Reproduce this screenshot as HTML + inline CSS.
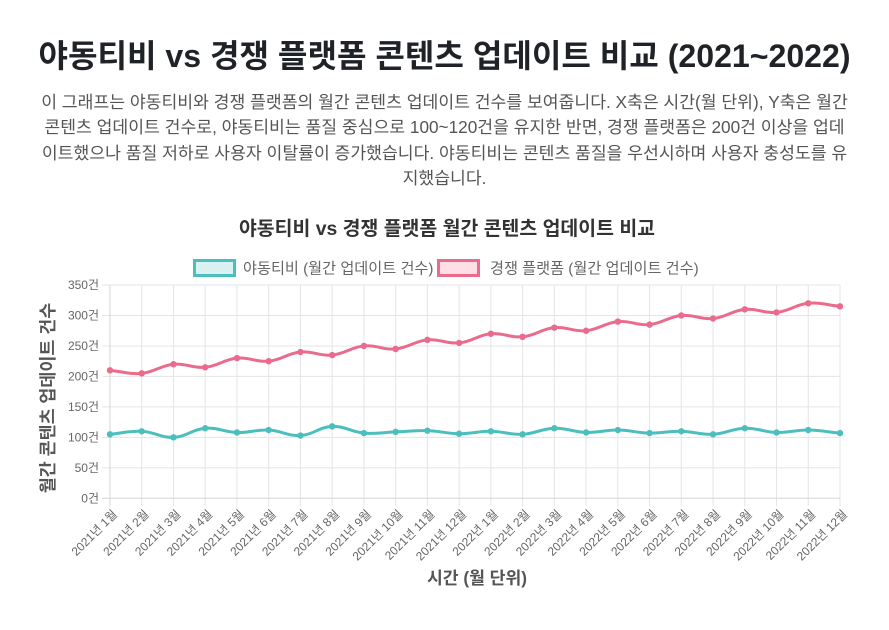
<!DOCTYPE html>
<html lang="ko">
<head>
<meta charset="utf-8">
<style>
  html,body{margin:0;padding:0;background:#fff;}
  body{width:889px;height:630px;position:relative;overflow:hidden;
       font-family:"Liberation Sans","Noto Sans CJK KR",sans-serif;}
  .title{position:absolute;left:0;top:37px;width:889px;text-align:center;
         font-size:32.1px;line-height:38px;font-weight:bold;color:#1f2328;white-space:nowrap;
         font-family:"Liberation Sans","Noto Sans CJK KR",sans-serif;}
  .desc{position:absolute;left:0;top:90px;width:889px;text-align:center;
        font-size:17.2px;line-height:25.3px;color:#555;white-space:nowrap;
        font-family:"Liberation Sans","Noto Sans CJK KR",sans-serif;}
  svg{position:absolute;left:0;top:0;}
  svg text{font-family:"Liberation Sans","Noto Sans CJK KR",sans-serif;}
</style>
</head>
<body>
<div class="title">야동티비 vs 경쟁 플랫폼 콘텐츠 업데이트 비교 (2021~2022)</div>
<div class="desc">이 그래프는 야동티비와 경쟁 플랫폼의 월간 콘텐츠 업데이트 건수를 보여줍니다. X축은 시간(월 단위), Y축은 월간<br>콘텐츠 업데이트 건수로, 야동티비는 품질 중심으로 100~120건을 유지한 반면, 경쟁 플랫폼은 200건 이상을 업데<br>이트했으나 품질 저하로 사용자 이탈률이 증가했습니다. 야동티비는 콘텐츠 품질을 우선시하며 사용자 충성도를 유<br>지했습니다.</div>

<svg width="889" height="630" viewBox="0 0 889 630" xmlns="http://www.w3.org/2000/svg">
  <!-- chart title -->
  <text x="447" y="235" text-anchor="middle" font-size="19.4" font-weight="bold" fill="#333">야동티비 vs 경쟁 플랫폼 월간 콘텐츠 업데이트 비교</text>

  <!-- legend -->
  <rect x="194.5" y="260.5" width="40" height="15" fill="#d9f2f1" stroke="#4bbfbd" stroke-width="3"/>
  <text x="243" y="273.5" font-size="15.2" fill="#666">야동티비 (월간 업데이트 건수)</text>
  <rect x="438.5" y="260.5" width="40" height="15" fill="#ffdee5" stroke="#eb6b8c" stroke-width="3"/>
  <text x="490" y="273.5" font-size="15.2" fill="#666">경쟁 플랫폼 (월간 업데이트 건수)</text>

  <!-- horizontal grid -->
  <g stroke="#e5e5e5" stroke-width="1">
    <line x1="102" y1="285" x2="840" y2="285"/>
    <line x1="102" y1="315.5" x2="840" y2="315.5"/>
    <line x1="102" y1="346" x2="840" y2="346"/>
    <line x1="102" y1="376.4" x2="840" y2="376.4"/>
    <line x1="102" y1="406.9" x2="840" y2="406.9"/>
    <line x1="102" y1="437.4" x2="840" y2="437.4"/>
    <line x1="102" y1="467.8" x2="840" y2="467.8"/>
  </g>
  <!-- vertical grid -->
  <g stroke="#e5e5e5" stroke-width="1">
    <line x1="141.74" y1="285" x2="141.74" y2="506"/>
    <line x1="173.48" y1="285" x2="173.48" y2="506"/>
    <line x1="205.22" y1="285" x2="205.22" y2="506"/>
    <line x1="236.96" y1="285" x2="236.96" y2="506"/>
    <line x1="268.70" y1="285" x2="268.70" y2="506"/>
    <line x1="300.43" y1="285" x2="300.43" y2="506"/>
    <line x1="332.17" y1="285" x2="332.17" y2="506"/>
    <line x1="363.91" y1="285" x2="363.91" y2="506"/>
    <line x1="395.65" y1="285" x2="395.65" y2="506"/>
    <line x1="427.39" y1="285" x2="427.39" y2="506"/>
    <line x1="459.13" y1="285" x2="459.13" y2="506"/>
    <line x1="490.87" y1="285" x2="490.87" y2="506"/>
    <line x1="522.61" y1="285" x2="522.61" y2="506"/>
    <line x1="554.35" y1="285" x2="554.35" y2="506"/>
    <line x1="586.09" y1="285" x2="586.09" y2="506"/>
    <line x1="617.83" y1="285" x2="617.83" y2="506"/>
    <line x1="649.57" y1="285" x2="649.57" y2="506"/>
    <line x1="681.30" y1="285" x2="681.30" y2="506"/>
    <line x1="713.04" y1="285" x2="713.04" y2="506"/>
    <line x1="744.78" y1="285" x2="744.78" y2="506"/>
    <line x1="776.52" y1="285" x2="776.52" y2="506"/>
    <line x1="808.26" y1="285" x2="808.26" y2="506"/>
    <line x1="840" y1="285" x2="840" y2="506"/>
  </g>
  <!-- axes -->
  <g stroke="#d6d6d6" stroke-width="1">
    <line x1="110" y1="285" x2="110" y2="506"/>
    <line x1="102" y1="498.3" x2="840" y2="498.3"/>
  </g>

  <!-- y tick labels -->
  <g font-size="12" fill="#666" text-anchor="end">
    <text x="99" y="289">350건</text>
    <text x="99" y="319.5">300건</text>
    <text x="99" y="350">250건</text>
    <text x="99" y="380.4">200건</text>
    <text x="99" y="410.9">150건</text>
    <text x="99" y="441.4">100건</text>
    <text x="99" y="471.8">50건</text>
    <text x="99" y="502.3">0건</text>
  </g>

  <!-- x tick labels -->
  <g font-size="12" fill="#666" text-anchor="end">
    <text transform="translate(115,512) rotate(-45)" dy="0.35em">2021년 1월</text>
    <text transform="translate(146.74,512) rotate(-45)" dy="0.35em">2021년 2월</text>
    <text transform="translate(178.48,512) rotate(-45)" dy="0.35em">2021년 3월</text>
    <text transform="translate(210.22,512) rotate(-45)" dy="0.35em">2021년 4월</text>
    <text transform="translate(241.96,512) rotate(-45)" dy="0.35em">2021년 5월</text>
    <text transform="translate(273.70,512) rotate(-45)" dy="0.35em">2021년 6월</text>
    <text transform="translate(305.43,512) rotate(-45)" dy="0.35em">2021년 7월</text>
    <text transform="translate(337.17,512) rotate(-45)" dy="0.35em">2021년 8월</text>
    <text transform="translate(368.91,512) rotate(-45)" dy="0.35em">2021년 9월</text>
    <text transform="translate(400.65,512) rotate(-45)" dy="0.35em">2021년 10월</text>
    <text transform="translate(432.39,512) rotate(-45)" dy="0.35em">2021년 11월</text>
    <text transform="translate(464.13,512) rotate(-45)" dy="0.35em">2021년 12월</text>
    <text transform="translate(495.87,512) rotate(-45)" dy="0.35em">2022년 1월</text>
    <text transform="translate(527.61,512) rotate(-45)" dy="0.35em">2022년 2월</text>
    <text transform="translate(559.35,512) rotate(-45)" dy="0.35em">2022년 3월</text>
    <text transform="translate(591.09,512) rotate(-45)" dy="0.35em">2022년 4월</text>
    <text transform="translate(622.83,512) rotate(-45)" dy="0.35em">2022년 5월</text>
    <text transform="translate(654.57,512) rotate(-45)" dy="0.35em">2022년 6월</text>
    <text transform="translate(686.30,512) rotate(-45)" dy="0.35em">2022년 7월</text>
    <text transform="translate(718.04,512) rotate(-45)" dy="0.35em">2022년 8월</text>
    <text transform="translate(749.78,512) rotate(-45)" dy="0.35em">2022년 9월</text>
    <text transform="translate(781.52,512) rotate(-45)" dy="0.35em">2022년 10월</text>
    <text transform="translate(813.26,512) rotate(-45)" dy="0.35em">2022년 11월</text>
    <text transform="translate(845,512) rotate(-45)" dy="0.35em">2022년 12월</text>
  </g>

  <!-- axis titles -->
  <text x="477" y="584" text-anchor="middle" font-size="17.2" font-weight="bold" fill="#555">시간 (월 단위)</text>
  <text transform="translate(54,398) rotate(-90)" text-anchor="middle" font-size="17.4" font-weight="bold" fill="#555">월간 콘텐츠 업데이트 건수</text>

  <!-- series -->
  <path id="pinkLine" fill="none" stroke="#eb6b8c" stroke-width="3" stroke-linejoin="round"
    d="M110,370.3 L141.74,373.4 L173.48,364.2 L205.22,367.3 L236.96,358.1 L268.70,361.2 L300.43,352 L332.17,355.1 L363.91,345.9 L395.65,349 L427.39,339.9 L459.13,342.9 L490.87,333.8 L522.61,336.8 L554.35,327.7 L586.09,330.7 L617.83,321.6 L649.57,324.6 L681.30,315.5 L713.04,318.5 L744.78,309.4 L776.52,312.4 L808.26,303.3 L840,306.4"/>
  <path id="tealLine" fill="none" stroke="#4bbfbd" stroke-width="3" stroke-linejoin="round"
    d="M110,434.3 L141.74,431.3 L173.48,437.4 L205.22,428.2 L236.96,432.5 L268.70,430.1 L300.43,435.5 L332.17,426.4 L363.91,433.1 L395.65,431.9 L427.39,430.7 L459.13,433.7 L490.87,431.3 L522.61,434.3 L554.35,428.2 L586.09,432.5 L617.83,430.1 L649.57,433.1 L681.30,431.3 L713.04,434.3 L744.78,428.2 L776.52,432.5 L808.26,430.1 L840,433.1"/>
  <g id="pts"></g>
</svg>

<script>
(function(){
  var teal=[105,110,100,115,108,112,103,118,107,109,111,106,110,105,115,108,112,107,110,105,115,108,112,107];
  var pink=[210,205,220,215,230,225,240,235,250,245,260,255,270,265,280,275,290,285,300,295,310,305,320,315];
  function X(i){return 110+i*(730/23);}
  function Y(v){return 498.3-v*(213.3/350);}
  function build(vals){
    var p=vals.map(function(v,i){return {x:X(i),y:Y(v)};});
    var t=0.4,n=p.length,cp=[];
    for(var i=0;i<n;i++){
      var prev=p[i-1]||p[i],cur=p[i],next=p[i+1]||p[i];
      var d01=Math.hypot(cur.x-prev.x,cur.y-prev.y),d12=Math.hypot(next.x-cur.x,next.y-cur.y);
      var s01=d01/(d01+d12)||0,s12=d12/(d01+d12)||0;
      var fa=t*s01,fb=t*s12;
      cp.push({px:cur.x-fa*(next.x-prev.x),py:cur.y-fa*(next.y-prev.y),
               nx:cur.x+fb*(next.x-prev.x),ny:cur.y+fb*(next.y-prev.y)});
    }
    var d="M"+p[0].x.toFixed(2)+","+p[0].y.toFixed(2);
    for(var j=1;j<n;j++){
      d+=" C"+cp[j-1].nx.toFixed(2)+","+cp[j-1].ny.toFixed(2)+" "+cp[j].px.toFixed(2)+","+cp[j].py.toFixed(2)+" "+p[j].x.toFixed(2)+","+p[j].y.toFixed(2);
    }
    return {d:d,p:p};
  }
  var ns="http://www.w3.org/2000/svg";
  var g=document.getElementById("pts");
  [[pink,"pinkLine","#eb6b8c"],[teal,"tealLine","#4bbfbd"]].forEach(function(s){
    var r=build(s[0]);
    document.getElementById(s[1]).setAttribute("d",r.d);
    r.p.forEach(function(pt){
      var c=document.createElementNS(ns,"circle");
      c.setAttribute("cx",pt.x);c.setAttribute("cy",pt.y);c.setAttribute("r","3.2");
      c.setAttribute("fill",s[2]);
      g.appendChild(c);
    });
  });
})();
</script>
</body>
</html>
